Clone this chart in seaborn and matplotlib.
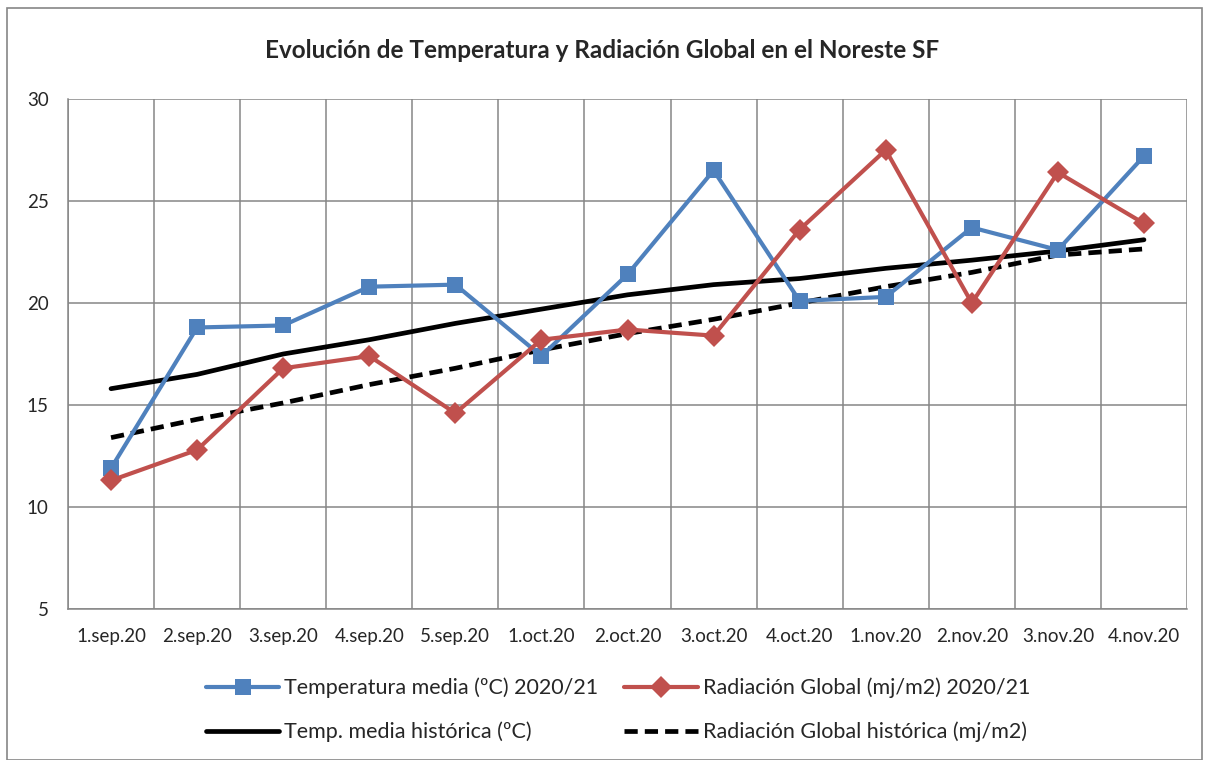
import numpy as np
import pandas as pd
import seaborn as sns
import matplotlib.pyplot as plt
from matplotlib.patches import Rectangle

semanas = ['1.sep.20', '2.sep.20', '3.sep.20', '4.sep.20', '5.sep.20',
           '1.oct.20', '2.oct.20', '3.oct.20', '4.oct.20',
           '1.nov.20', '2.nov.20', '3.nov.20', '4.nov.20']

temp_media = [11.9, 18.8, 18.9, 20.8, 20.9, 17.4, 21.4, 26.5, 20.1, 20.3, 23.7, 22.6, 27.2]
rad_global = [11.3, 12.8, 16.8, 17.4, 14.6, 18.2, 18.7, 18.4, 23.6, 27.5, 20.0, 26.4, 23.9]
temp_hist = [15.8, 16.5, 17.5, 18.2, 19.0, 19.7, 20.4, 20.9, 21.2, 21.7, 22.1, 22.55, 23.1]
rad_hist = [13.4, 14.3, 15.1, 16.0, 16.8, 17.7, 18.5, 19.2, 20.0, 20.8, 21.5, 22.35, 22.65]

sns.set_style('white')
plt.rcParams['font.family'] = ['Lato', 'DejaVu Sans']

df = pd.DataFrame({'pos': np.arange(len(semanas)),
                   'Temperatura media (ºC) 2020/21': temp_media,
                   'Radiación Global (mj/m2) 2020/21': rad_global,
                   'Temp. media histórica (ºC)': temp_hist,
                   'Radiación Global histórica (mj/m2)': rad_hist})

fig = plt.figure(figsize=(12.05, 7.6), dpi=100)
ax = fig.add_axes([68 / 1205, 1 - 609 / 760, 1119 / 1205, 510 / 760])

# series in the order the legend reads column-wise
sns.lineplot(data=df, x='pos', y='Temperatura media (ºC) 2020/21', ax=ax,
             color='#4F81BD', lw=3, marker='s', markersize=11, markeredgewidth=0,
             label='Temperatura media (ºC) 2020/21', zorder=3)
sns.lineplot(data=df, x='pos', y='Temp. media histórica (ºC)', ax=ax,
             color='black', lw=3.4, label='Temp. media histórica (ºC)', zorder=2)
sns.lineplot(data=df, x='pos', y='Radiación Global (mj/m2) 2020/21', ax=ax,
             color='#C0504D', lw=3, marker='D', markersize=11, markeredgewidth=0,
             label='Radiación Global (mj/m2) 2020/21', zorder=3)
sns.lineplot(data=df, x='pos', y='Radiación Global histórica (mj/m2)', ax=ax,
             color='black', lw=3.4, dashes=(2.8, 1.5), label='Radiación Global histórica (mj/m2)',
             zorder=2)

ax.set_xlim(-0.5, len(semanas) - 0.5)
ax.set_ylim(5, 30)
ax.set_yticks([5, 10, 15, 20, 25, 30])
ax.set_xticks(np.arange(len(semanas)))
ax.set_xticklabels(semanas, fontsize=13.5)
ax.set_xticks(np.arange(len(semanas) + 1) - 0.5, minor=True)
ax.tick_params(axis='y', labelsize=13.5, length=8, color='#868686', direction='inout', pad=10)
ax.tick_params(axis='x', which='major', length=0, pad=14)
ax.tick_params(axis='x', which='minor', length=8, color='#868686', direction='inout')
ax.set_xlabel('')
ax.set_ylabel('')

ax.grid(True, axis='y', color='#868686', lw=1.1)
ax.grid(True, axis='x', which='minor', color='#868686', lw=1.1)
for s in ['top', 'right']:
    ax.spines[s].set_visible(False)
for s in ['left', 'bottom']:
    ax.spines[s].set_color('#868686')
    ax.spines[s].set_linewidth(1.1)

fig.suptitle('Evolución de Temperatura y Radiación Global en el Noreste SF',
             fontsize=17.5, fontweight='bold', y=1 - 50 / 760, va='center')

handles, labels = ax.get_legend_handles_labels()
ax.legend_.remove()
fig.legend(handles=handles, labels=labels, ncol=2, loc='center',
           bbox_to_anchor=(0.513, 1 - 710 / 760), frameon=False, fontsize=15.5,
           handlelength=3.4, columnspacing=1.2, labelspacing=1.1, handletextpad=0.25)

fig.patches.append(Rectangle((7 / 1205, 0), 1195 / 1205, 1 - 8 / 760,
                             transform=fig.transFigure, fill=False,
                             edgecolor='#868686', lw=1.2))

fig.savefig('out.png', dpi=100)
